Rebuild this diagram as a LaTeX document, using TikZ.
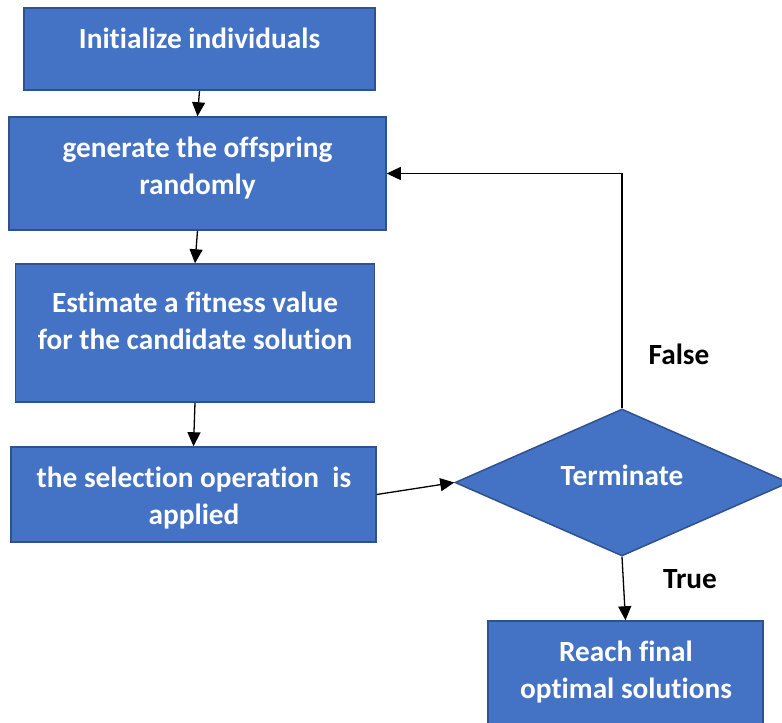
\documentclass[tikz,border=0pt]{standalone}
\usepackage{fontspec}
\setmainfont{Carlito}[Ligatures=NoCommon]
\usetikzlibrary{shapes.geometric,arrows.meta}
\definecolor{boxfill}{HTML}{4472C4}
\definecolor{boxedge}{HTML}{2F528F}
\newcommand{\lnstrut}{\rule[-8pt]{0pt}{30pt}}
\begin{document}
\begin{tikzpicture}[x=1pt,y=-1pt,
  box/.style={draw=boxedge, fill=boxfill, line width=1.5pt, inner sep=0pt, rectangle},
  dia/.style={draw=boxedge, fill=boxfill, line width=1.5pt, inner sep=0pt, diamond},
  txt/.style={text=white, font=\fontsize{29.3}{37}\selectfont\bfseries, align=center, inner sep=0pt, anchor=north},
  lbl/.style={font=\fontsize{29.3}{37}\selectfont\bfseries, inner sep=0pt, anchor=base},
  conn/.style={line width=1.3pt, -{Triangle[length=14pt,width=13pt]}}]
\useasboundingbox (0,0) rectangle (782,723);
\clip (0,0) rectangle (782,723);
% boxes
\node[box, minimum width=351pt, minimum height=82pt] (b1) at (199.5,49) {};
\node[box, minimum width=377pt, minimum height=113pt] (b2) at (197.5,173.5) {};
\node[box, minimum width=359pt, minimum height=138pt] (b3) at (195,333) {};
\node[box, minimum width=365pt, minimum height=95pt] (b4) at (193.5,494.5) {};
\node[dia, minimum width=334pt, minimum height=147pt] (dm) at (622,482.5) {};
\node[box, minimum width=275pt, minimum height=130pt] (b5) at (625.5,686) {};
% texts
\node[txt] (t1) at (199.5,26) {\lnstrut Initialize individuals};
\node[txt] (t2) at (197.5,135) {\lnstrut generate the offspring\\\lnstrut randomly};
\node[txt] (t3) at (195,290) {\lnstrut Estimate a fitness value\\\lnstrut for the candidate solution};
\node[txt] (t4) at (194,465) {\lnstrut the selection operation~ is\\\lnstrut applied};
\node[txt] (t5) at (626,639) {\lnstrut Reach final\\\lnstrut optimal solutions};
\node[txt, anchor=base] (tt) at (622,485) {Terminate};
\node[lbl] (lf) at (679,364) {False};
\node[lbl] (lt) at (690,588) {True};
% connectors
\draw[conn] (b1.south) -- (b2.north);
\draw[conn] (b2.south) -- (b3.north);
\draw[conn] (b3.south) -- (b4.north);
\draw[conn] (b4.east) -- (dm.west);
\draw[conn] (dm.south) -- (b5.north);
\draw[conn] (dm.north) |- (b2.east);
\end{tikzpicture}
\end{document}
